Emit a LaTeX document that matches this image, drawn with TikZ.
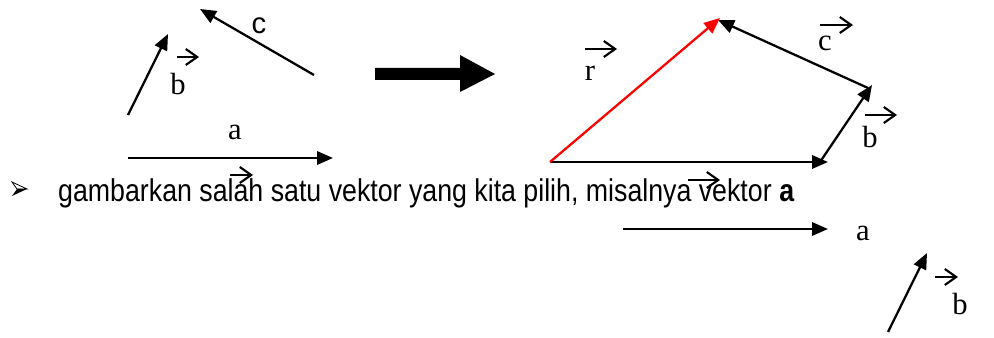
\documentclass[tikz,border=0pt]{standalone}
\usepackage{fontspec}
\setmainfont{Liberation Serif}
\newfontfamily\arialfont{Liberation Sans}
\usepackage{tikz}
\usetikzlibrary{arrows.meta, positioning}

\tikzset{
    vek/.style={line width=1.7pt, -{Triangle[length=12pt, width=10pt]}},
    vekmerah/.style={vek, red},
    panahlabel/.style={line width=1.6pt, -{Straight Barb[length=8.5pt, width=12pt, line width=1.6pt]}},
    hurufvek/.style={font=\fontsize{23}{24}\selectfont, inner sep=0pt},
    hurufsans/.style={font=\arialfont\fontsize{22}{24}\selectfont, inner sep=0pt},
}

\begin{document}
\begin{tikzpicture}[x=0.75pt, y=-0.75pt]
    \useasboundingbox (0,0) rectangle (994,338);

    % =================================================================
    % BAGIAN 1: TIGA VEKTOR a, b, c (KIRI)
    % =================================================================
    \begin{scope}
        \coordinate (b1s) at (128,115);
        \coordinate (b1e) at (168,34);
        \coordinate (c1s) at (314,75);
        \coordinate (c1e) at (200,9);
        \coordinate (a1s) at (128,158);
        \coordinate (a1e) at (333,158);

        \draw[vek] (b1s) -- (b1e);
        \draw[vek] (c1s) -- (c1e);
        \draw[vek] (a1s) -- (a1e);

        % Label vektor
        \node[hurufvek] (lb1) at (178,84) {b};
        \node[hurufsans] (lc1) at (259,26) {c};
        \node[hurufvek] (la1) at (235,132) {a};
    \end{scope}

    % Panah besar: kiri -> kanan
    \fill (375,68) -- (460,68) -- (460,55) -- (495,74) -- (460,92) -- (460,80) -- (375,80) -- cycle;

    % =================================================================
    % BAGIAN 2: RESULTAN r = a + b + c (KANAN)
    % =================================================================
    \begin{scope}
        \coordinate (O) at (550,162);
        \coordinate (a2e) at (828,162);
        \coordinate (b2s) at (820,162);
        \coordinate (b2e) at (872,85);
        \coordinate (c2s) at (868,88);
        \coordinate (c2e) at (718,20);
        \coordinate (r2e) at (720,18);

        \draw[vek] (O) -- (a2e);
        \draw[vek] (b2s) -- (b2e);
        \draw[vek] (c2s) -- (c2e);
        \draw[vekmerah] (O) -- (r2e);

        % Label vektor
        \node[hurufvek] (lr2) at (590,73) {r};
        \node[hurufvek] (lc2) at (825,43) {c};
        \node[hurufvek] (lb2) at (870,137) {b};
    \end{scope}

    % =================================================================
    % BAGIAN 3: TEKS LANGKAH
    % =================================================================
    \draw[line width=0.6pt, fill=white] (12,182) -- (27,189) -- (17,189) -- cycle;
    \fill (12,196) -- (27,189) -- (17,189) -- cycle;
    \node[anchor=base west, inner sep=0pt, xscale=0.85, font=\arialfont\fontsize{23.6}{26}\selectfont]
        (teks) at (58,202) {gambarkan salah satu vektor yang kita pilih, misalnya vektor \textbf{a}};

    % =================================================================
    % BAGIAN 4: VEKTOR a DAN b DI BAWAH
    % =================================================================
    \begin{scope}
        \coordinate (a3s) at (623,229);
        \coordinate (a3e) at (828,229);
        \coordinate (b3s) at (888,332);
        \coordinate (b3e) at (927,253);

        \draw[vek] (a3s) -- (a3e);
        \draw[vek] (b3s) -- (b3e);

        \node[hurufvek] (la3) at (863,233) {a};
        \node[hurufvek] (lb3) at (960,304) {b};
    \end{scope}

    % Panah kecil di atas huruf vektor
    \foreach \x/\y/\l in {177/57/22, 230/175/23, 585/49/32, 820/25/33, 865/115/32, 688/180/32, 935/277/23}
        \draw[panahlabel] (\x,\y) -- ++(\l,0);

\end{tikzpicture}
\end{document}
